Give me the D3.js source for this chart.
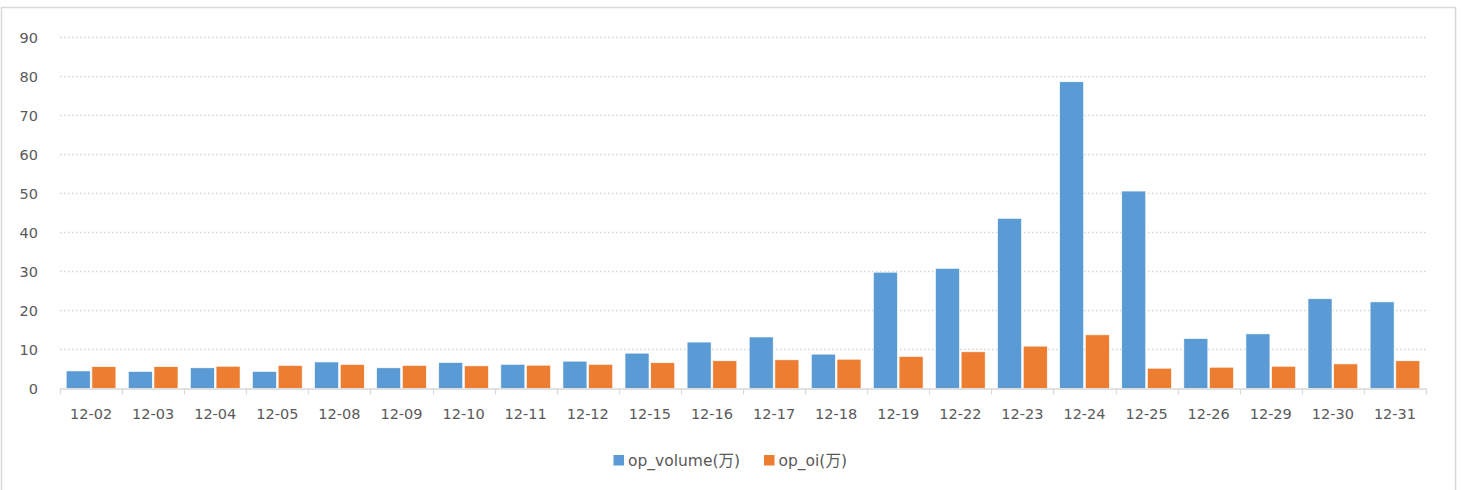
<!DOCTYPE html>
<html><head><meta charset="utf-8">
<script src="https://cdn.jsdelivr.net/npm/d3@7"></script>
<style>
body{margin:0;background:#fff;}
svg text{font-family:"DejaVu Sans","Noto Sans CJK SC",sans-serif;fill:#595959;}
</style></head>
<body>
<svg id="chart" width="1462" height="490"></svg>
<script>
const categories = ["12-02","12-03","12-04","12-05","12-08","12-09","12-10","12-11","12-12","12-15","12-16","12-17","12-18","12-19","12-22","12-23","12-24","12-25","12-26","12-29","12-30","12-31"];
const opVolume = [4.5,4.35,5.3,4.35,6.8,5.3,6.65,6.2,7.0,9.05,11.9,13.2,8.8,29.8,30.8,43.6,78.6,50.6,12.8,14.0,23.0,22.2];
const opOi = [5.6,5.6,5.7,5.9,6.15,5.9,5.8,5.97,6.2,6.6,7.1,7.35,7.5,8.2,9.4,10.85,13.75,5.2,5.45,5.7,6.3,7.1];
const yTicks = [0,10,20,30,40,50,60,70,80,90];
const seriesNames = ["op_volume(万)","op_oi(万)"];
const colors = ["#5b9bd5","#ed7d31"];

const svg = d3.select("#chart");
svg.append("rect").attr("x",1.5).attr("y",7.5).attr("width",1454).attr("height",490)
  .attr("fill","#fff").attr("stroke","#d9d9d9").attr("stroke-width",1.5);

const pLeft=60, pRight=1426, pTop=37.3, pBottom=388.5;
const x = d3.scaleBand().domain(categories).range([pLeft,pRight]).paddingInner(0.2).paddingOuter(0.1);
const x0 = d3.scaleBand().domain(categories).range([pLeft,pRight]);
const xs = d3.scaleBand().domain([0,1]).range([0,x.bandwidth()]).paddingInner(0.066);
const y = d3.scaleLinear().domain([0,90]).range([pBottom,pTop]);

// grid
svg.append("g").selectAll("line").data(yTicks.filter(d=>d>0)).join("line")
  .attr("x1",pLeft).attr("x2",pRight).attr("y1",d=>Math.round(y(d))+0.5).attr("y2",d=>Math.round(y(d))+0.5)
  .attr("stroke","#d4d4d4").attr("stroke-width",1.3).attr("stroke-dasharray","1.5,2.5");

// y labels
svg.append("g").selectAll("text").data(yTicks).join("text")
  .attr("x",38).attr("y",d=>y(d)+5.5).attr("text-anchor","end").attr("font-size",14.5).text(d=>d);

// bars
const data = categories.map((c,i)=>({c, v:[opVolume[i],opOi[i]]}));
const g = svg.append("g").selectAll("g").data(data).join("g").attr("transform",d=>`translate(${x(d.c)},0)`);
g.selectAll("rect").data(d=>d.v.map((v,k)=>({v,k}))).join("rect")
  .attr("x",d=>xs(d.k)).attr("width",xs.bandwidth())
  .attr("y",d=>y(d.v)).attr("height",d=>pBottom-y(d.v))
  .attr("fill",d=>colors[d.k]).attr("stroke","#fff").attr("stroke-width",0.6);

// x axis
const xAxis = svg.append("g").attr("transform",`translate(0,${pBottom})`);
xAxis.append("line").attr("x1",pLeft).attr("x2",pRight).attr("y1",0.5).attr("y2",0.5).attr("stroke","#d9d9d9").attr("stroke-width",1.5);
const tickPos = categories.map(c=>x0(c)).concat([pRight]);
xAxis.selectAll("line.t").data(tickPos).join("line").attr("class","t")
  .attr("x1",d=>Math.round(d)+0.5).attr("x2",d=>Math.round(d)+0.5).attr("y1",0).attr("y2",6)
  .attr("stroke","#d9d9d9").attr("stroke-width",1.2);
xAxis.selectAll("text").data(categories).join("text")
  .attr("x",c=>x0(c)+x0.bandwidth()/2).attr("y",30).attr("text-anchor","middle").attr("font-size",14.5).text(c=>c);

// legend
const legend = svg.append("g");
const lx = [613.5, 764];
seriesNames.forEach((n,i)=>{
  legend.append("rect").attr("x",lx[i]).attr("y",455).attr("width",10.5).attr("height",10.5).attr("fill",colors[i]);
  legend.append("text").attr("x",lx[i]+14.5).attr("y",466).attr("font-size",15.5).text(n);
});
</script>
</body></html>
